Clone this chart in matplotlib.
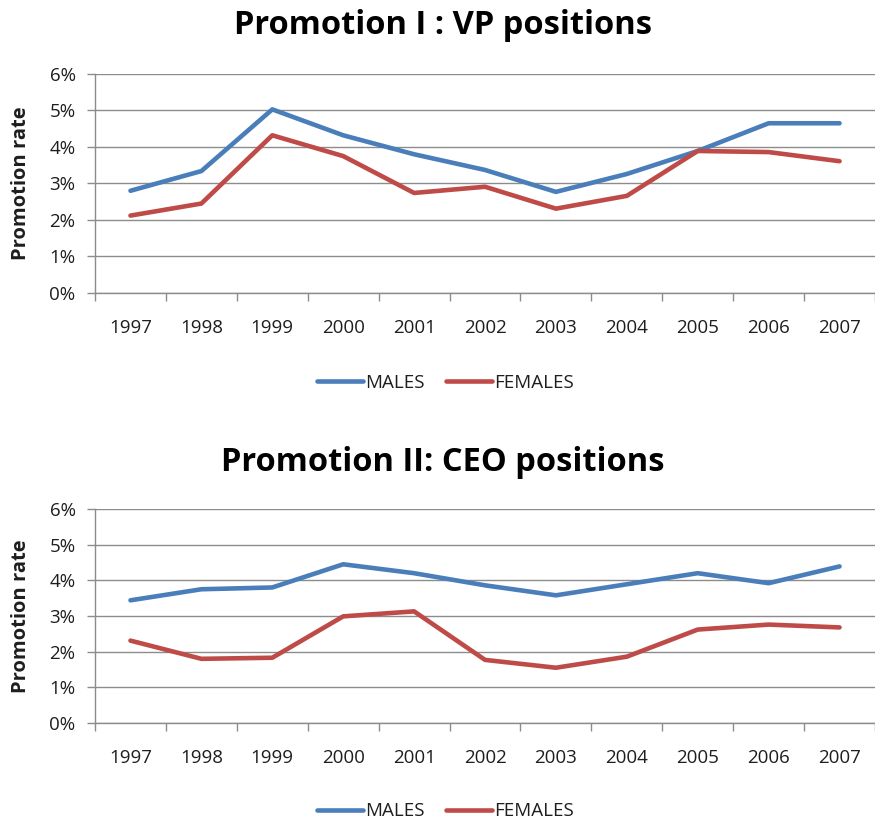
import matplotlib
matplotlib.use("Agg")
import matplotlib.pyplot as plt
from matplotlib.ticker import FuncFormatter, FixedLocator
import numpy as np

plt.rcParams['font.family'] = ['Open Sans', 'DejaVu Sans']

years = ['1997', '1998', '1999', '2000', '2001', '2002',
         '2003', '2004', '2005', '2006', '2007']

# Promotion I : VP positions (percent)
vp_males = [2.80, 3.34, 5.03, 4.32, 3.80, 3.37, 2.77, 3.26, 3.89, 4.65, 4.65]
vp_females = [2.12, 2.45, 4.32, 3.75, 2.74, 2.91, 2.31, 2.66, 3.89, 3.86, 3.61]

# Promotion II: CEO positions (percent)
ceo_males = [3.44, 3.75, 3.80, 4.45, 4.20, 3.86, 3.58, 3.89, 4.20, 3.92, 4.39]
ceo_females = [2.31, 1.80, 1.83, 2.99, 3.13, 1.77, 1.55, 1.86, 2.62, 2.76, 2.68]

titles = ['Promotion I : VP positions', 'Promotion II: CEO positions']

blue = '#4A7EBB'
red = '#BE4B48'
grid_col = '#8C8C8C'
txt_col = '#1E1E1E'

fig = plt.figure(figsize=(8.75, 8.22), dpi=100)

panels = [
    (vp_males, vp_females, titles[0], [0.1086, 0.6436, 0.8914, 0.2664], 0.969, 0.534),
    (ceo_males, ceo_females, titles[1], [0.1086, 0.1204, 0.8914, 0.2604], 0.437, 0.013),
]

x = np.arange(len(years))
for males, females, title, rect, ty, ly in panels:
    ax = fig.add_axes(rect)
    ax.plot(x, males, color=blue, lw=3.3, label='MALES', solid_capstyle='round')
    ax.plot(x, females, color=red, lw=3.3, label='FEMALES', solid_capstyle='round')
    ax.set_xlim(-0.5, len(years) - 0.5)
    ax.set_ylim(0, 6)
    ax.set_yticks(range(7))
    ax.yaxis.set_major_formatter(FuncFormatter(lambda v, p: '%d%%' % v))
    ax.set_xticks(x)
    ax.set_xticklabels(years)
    ax.xaxis.set_minor_locator(FixedLocator(np.arange(-0.5, len(years), 1)))
    ax.tick_params(axis='x', which='major', length=0, pad=18.5, labelsize=13.5,
                   colors=txt_col)
    ax.tick_params(axis='x', which='minor', length=6, color=grid_col, width=1)
    ax.tick_params(axis='y', length=6, color=grid_col, width=1, labelsize=13.5,
                   labelcolor=txt_col, pad=8)
    ax.grid(axis='y', color=grid_col, lw=1)
    ax.set_axisbelow(True)
    for s in ['top', 'right']:
        ax.spines[s].set_visible(False)
    for s in ['left', 'bottom']:
        ax.spines[s].set_color(grid_col)
        ax.spines[s].set_linewidth(1)
    ax.set_ylabel('Promotion rate', fontsize=14.5, fontweight='bold', color=txt_col)
    ax.yaxis.set_label_coords(-0.082, 0.5)
    fig.text(0.506, ty, title, ha='center', va='center', fontsize=23.5,
             fontweight='bold', color='black')
    fig.legend(handles=ax.get_lines(), loc='center', bbox_to_anchor=(0.509, ly),
               ncol=2, frameon=False, fontsize=13.5, handlelength=2.45,
               handletextpad=0.15, columnspacing=1.1, labelcolor=txt_col)

fig.savefig('out.png', dpi=100)
